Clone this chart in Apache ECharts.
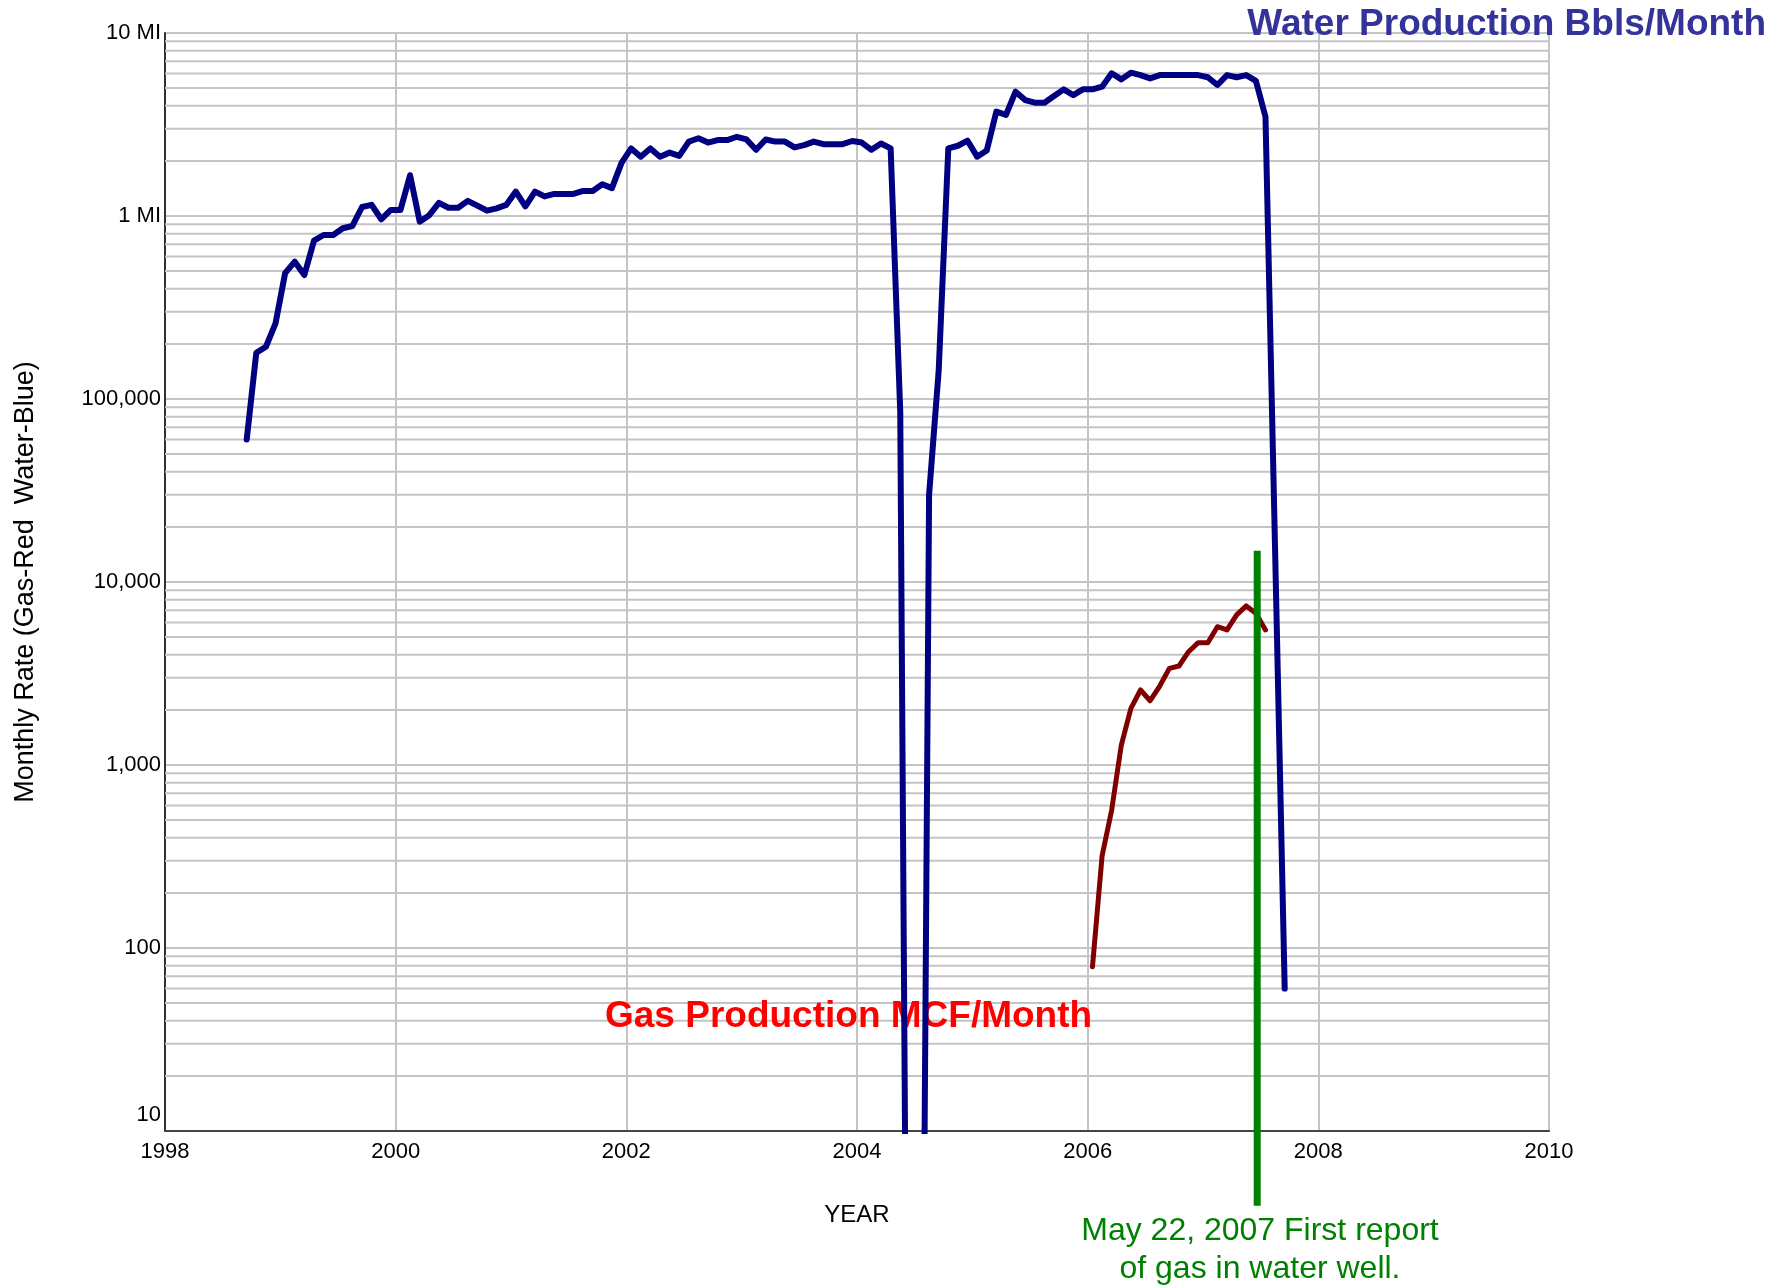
<!DOCTYPE html>
<html>
<head>
<meta charset="utf-8">
<style>
html,body{margin:0;padding:0;background:#ffffff;}
#chart{width:1784px;height:1285px;}
</style>
<script src="https://cdn.jsdelivr.net/npm/echarts@6/dist/echarts.min.js"></script>
</head>
<body>
<div id="chart"></div>
<script>
// ---------------- DATA ----------------
// Water production (Bbls/Month), monthly, first month = Sept 1998
const waterStart = [1998, 9];
const waterValues = [
  60000, 179000, 193000, 259000, 487000, 563000, 476000, 733000, 787000, 787000,
  857000, 882000, 1120000, 1150000, 960000, 1080000, 1080000, 1670000, 931000, 1010000,
  1180000, 1110000, 1110000, 1210000, 1140000, 1070000, 1100000, 1150000, 1360000, 1130000,
  1360000, 1280000, 1320000, 1320000, 1320000, 1370000, 1370000, 1490000, 1420000, 1950000,
  2340000, 2110000, 2340000, 2110000, 2220000, 2130000, 2550000, 2660000, 2520000, 2600000,
  2600000, 2710000, 2620000, 2300000, 2620000, 2550000, 2550000, 2370000, 2440000, 2550000,
  2470000, 2470000, 2470000, 2570000, 2520000, 2300000, 2490000, 2340000, 85000, 0.001,
  0.001, 30000, 143000, 2340000, 2420000, 2580000, 2110000, 2280000, 3720000, 3570000,
  4780000, 4300000, 4160000, 4160000, 4530000, 4920000, 4580000, 4920000, 4920000, 5090000,
  6020000, 5580000, 6070000, 5890000, 5650000, 5890000, 5890000, 5890000, 5890000, 5890000,
  5730000, 5200000, 5890000, 5730000, 5890000, 5480000, 3490000, 15000, 60
];
// Gas production (MCF/Month), monthly, first month = Jan 2006
const gasStart = [2006, 1];
const gasValues = [
  79, 318, 568, 1285, 2040, 2570, 2245, 2700, 3375, 3475,
  4160, 4660, 4660, 5700, 5470, 6610, 7400, 6750, 5470
];
// Axis ticks
const xMin = 1998, xMax = 2010, xInterval = 2;
const yMin = 10, yMax = 10000000;
const yTickLabels = {
  10: '10', 100: '100', 1000: '1,000', 10000: '10,000',
  100000: '100,000', 1000000: '1 MI', 10000000: '10 MI'
};
const minorMultipliers = [2, 3, 4, 5, 6, 7, 8, 9];
const decades = [10, 100, 1000, 10000, 100000, 1000000];
// Annotation marker (first report of gas in water well)
const markerYear = 2007.47;
const markerTop = 14800;
const markerBottom = 3.9;
const markerText = 'May 22, 2007 First report\nof gas in water well.';
const waterTitle = 'Water Production Bbls/Month';
const gasTitle = 'Gas Production MCF/Month';

// ---------------- BUILD ----------------
function monthSeries(start, values) {
  return values.map((v, i) => {
    const m = start[1] - 1 + i;
    const x = start[0] + (m + 0.5) / 12;
    return [x, v];
  });
}
const waterData = monthSeries(waterStart, waterValues);
const gasData = monthSeries(gasStart, gasValues);
const minorGrid = [];
decades.forEach(d => minorMultipliers.forEach(m => minorGrid.push([xMin, d * m])));

const REG = "'Liberation Sans', Arial, Helvetica, sans-serif";
const TICKFONT = 22;

const chart = echarts.init(document.getElementById('chart'), null, {renderer: 'canvas'});

const option = {
  animation: false,
  backgroundColor: '#ffffff',
  grid: {
    left: 165, right: 235, top: 33, bottom: 154,
    show: true, borderColor: '#444444', borderWidth: 1.5, backgroundColor: 'transparent'
  },
  xAxis: {
    type: 'value',
    min: xMin, max: xMax, interval: xInterval,
    name: 'YEAR',
    nameLocation: 'middle',
    nameGap: 72,
    nameTextStyle: {fontFamily: REG, fontSize: 24, color: '#000000'},
    axisLine: {show: true, lineStyle: {color: '#444444', width: 2}},
    axisTick: {show: false},
    axisLabel: {
      margin: 10, fontFamily: REG, fontSize: TICKFONT, color: '#000000',
      formatter: v => String(v)
    },
    splitLine: {show: true, lineStyle: {color: '#c4c4c4', width: 2}}
  },
  yAxis: {
    type: 'log',
    logBase: 10,
    min: yMin, max: yMax,
    splitNumber: 6,
    name: 'Monthly Rate (Gas-Red  Water-Blue)',
    nameLocation: 'middle',
    nameGap: 126,
    nameRotate: 90,
    nameTextStyle: {fontFamily: REG, fontSize: 27, color: '#000000'},
    axisLine: {show: true, lineStyle: {color: '#000000', width: 1.5}},
    axisTick: {show: false},
    axisLabel: {
      margin: 4,
      formatter: v => {
        const key = Math.round(v);
        const t = yTickLabels[key] !== undefined ? yTickLabels[key] : String(key);
        return key === yMin ? '{low|' + t + '}' : '{n|' + t + '}';
      },
      rich: {
        n: {fontFamily: REG, fontSize: TICKFONT, color: '#000000'},
        low: {fontFamily: REG, fontSize: TICKFONT, color: '#000000', padding: [0, 0, 32, 0]}
      }
    },
    splitLine: {show: true, lineStyle: {color: '#c4c4c4', width: 2}}
  },
  series: [
    {
      type: 'custom',
      name: 'minorGrid',
      z: 1,
      silent: true,
      data: minorGrid,
      renderItem: function (params, api) {
        const v = api.value(1);
        const p1 = api.coord([xMin, v]);
        const p2 = api.coord([xMax, v]);
        return {
          type: 'line',
          shape: {x1: p1[0], y1: p1[1], x2: p2[0], y2: p2[1]},
          style: {stroke: '#c4c4c4', lineWidth: 2}
        };
      }
    },
    {
      type: 'line',
      name: 'Water',
      data: waterData,
      showSymbol: false,
      symbol: 'none',
      z: 3,
      clip: true,
      lineStyle: {color: '#000080', width: 6, cap: 'round', join: 'round'}
    },
    {
      type: 'line',
      name: 'Gas',
      data: gasData,
      showSymbol: false,
      symbol: 'none',
      z: 3,
      clip: true,
      lineStyle: {color: '#800000', width: 5, cap: 'round', join: 'round'}
    },
    {
      type: 'custom',
      name: 'marker',
      z: 5,
      clip: false,
      silent: true,
      data: [[markerYear, markerTop, markerBottom]],
      renderItem: function (params, api) {
        const top = api.coord([api.value(0), api.value(1)]);
        const bot = api.coord([api.value(0), api.value(2)]);
        return {
          type: 'line',
          shape: {x1: top[0], y1: top[1], x2: bot[0], y2: bot[1]},
          style: {stroke: '#008000', lineWidth: 7}
        };
      }
    }
  ],
  graphic: [
    {
      type: 'text', z: 10, x: 1766, y: 25,
      style: {text: waterTitle, fill: '#333399', font: 'bold 37px ' + REG, align: 'right', verticalAlign: 'middle'}
    },
    {
      type: 'text', z: 2, x: 605, y: 1017,
      style: {text: gasTitle, fill: '#ff0000', font: 'bold 37px ' + REG, align: 'left', verticalAlign: 'middle'}
    },
    {
      type: 'text', z: 10, x: 1260, y: 1250,
      style: {text: markerText, fill: '#008000', font: '32px ' + REG, align: 'center', verticalAlign: 'middle', lineHeight: 38}
    }
  ]
};
chart.setOption(option);
</script>
</body>
</html>
